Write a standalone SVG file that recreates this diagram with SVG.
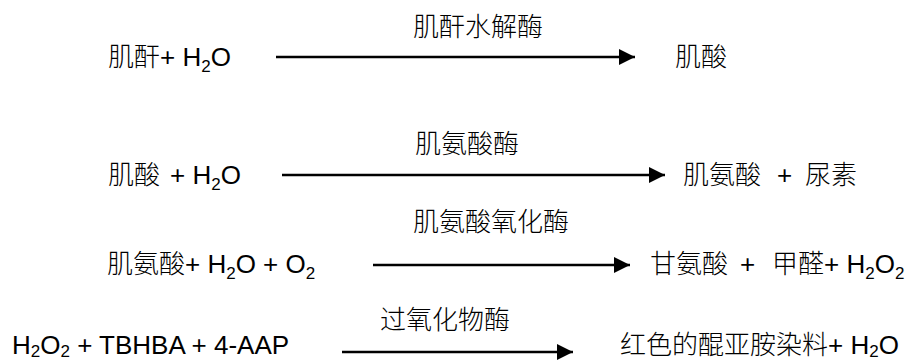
<svg xmlns="http://www.w3.org/2000/svg" width="908" height="362" viewBox="0 0 908 362">
<style>
text{font-family:"Liberation Sans","Noto Sans CJK SC",sans-serif;font-size:26px;fill:#000;font-weight:300}
.s{font-size:17px}
.c{stroke:#000;stroke-width:2.5;fill:none}
</style>
<defs>
<marker id="ah" markerUnits="userSpaceOnUse" markerWidth="17" markerHeight="16" refX="16" refY="8" orient="auto">
<path d="M0,0 L16,8 L0,16 Z" fill="#000"/>
</marker>
</defs>
<rect width="908" height="362" fill="#fff"/>
<g id="connectors">
<line class="c" x1="276" y1="57" x2="635" y2="57" marker-end="url(#ah)"/>
<line class="c" x1="282" y1="175" x2="665" y2="175" marker-end="url(#ah)"/>
<line class="c" x1="373" y1="265" x2="630" y2="265" marker-end="url(#ah)"/>
<line class="c" x1="342" y1="352" x2="573" y2="352" marker-end="url(#ah)"/>
</g>
<g id="r1-left"><text x="108" y="66">肌酐+ H<tspan class="s" dy="6">2</tspan><tspan dy="-6">O</tspan></text></g>
<g id="r1-label"><text x="413" y="36">肌酐水解酶</text></g>
<g id="r1-right"><text x="675" y="66">肌酸</text></g>
<g id="r2-left"><text x="108" y="184">肌酸<tspan x="170">+ H</tspan><tspan class="s" dy="6">2</tspan><tspan dy="-6">O</tspan></text></g>
<g id="r2-label"><text x="415" y="153">肌氨酸酶</text></g>
<g id="r2-right"><text x="683" y="184">肌氨酸<tspan x="777">+</tspan><tspan x="805">尿素</tspan></text></g>
<g id="r3-left"><text x="107" y="273">肌氨酸+ H<tspan class="s" dy="6">2</tspan><tspan dy="-6">O + O</tspan><tspan class="s" dy="6">2</tspan></text></g>
<g id="r3-label"><text x="413" y="231">肌氨酸氧化酶</text></g>
<g id="r3-right"><text x="650" y="273">甘氨酸<tspan x="740">+</tspan><tspan x="772">甲醛+ H</tspan><tspan class="s" dy="6">2</tspan><tspan dy="-6">O</tspan><tspan class="s" dy="6">2</tspan></text></g>
<g id="r4-left"><text x="12" y="354">H<tspan class="s" dy="3">2</tspan><tspan dy="-3">O</tspan><tspan class="s" dy="3">2</tspan><tspan dy="-3"> + TBHBA + 4-AAP</tspan></text></g>
<g id="r4-label"><text x="380" y="329">过氧化物酶</text></g>
<g id="r4-right"><text x="620" y="354">红色的醌亚胺染料+ H<tspan class="s" dy="3">2</tspan><tspan dy="-3">O</tspan></text></g>
</svg>
